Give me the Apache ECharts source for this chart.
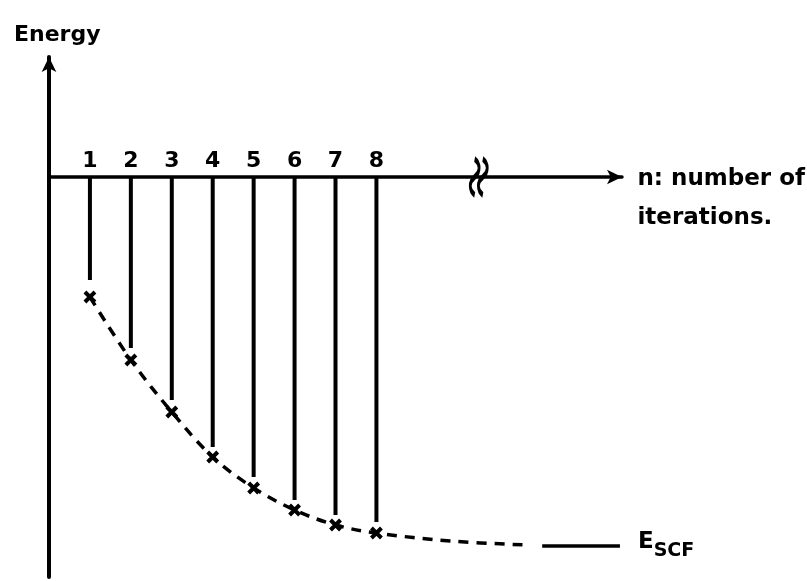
<!DOCTYPE html>
<html>
<head>
<meta charset="utf-8">
<script src="https://cdn.jsdelivr.net/npm/echarts@6/dist/echarts.min.js"></script>
<style>
  html, body { margin: 0; padding: 0; background: #fff; }
  #main { width: 807px; height: 581px; }
</style>
</head>
<body>
<div id="main"></div>
<script>
// iteration number n and the energy reached after it (arbitrary units, 0 = the n axis)
const iterations = [1, 2, 3, 4, 5, 6, 7, 8]
const energies = [-12.0, -18.3, -23.5, -28.0, -31.1, -33.3, -34.8, -35.6]
// the vertical lines stop a little above each cross
const stemEnds = [-10.3, -17.1, -22.3, -27.0, -30.0, -32.3, -33.8, -34.5]
// dashed curve keeps going to the right after n = 8
const tailX = [9.8, 11.7]
const tailE = [-36.4, -36.8]
// converged value E_SCF, drawn as a short solid segment
const scfX = [12.05, 13.95]
const scfE = -36.9
// where the n axis is broken
const breakAt = 10.5
const tickLabels = ['1', '2', '3', '4', '5', '6', '7', '8']

const FONT = 'DejaVu Sans'
const chart = echarts.init(document.getElementById('main'))

const curveData = iterations.map((n, i) => [n, energies[i]])
tailX.forEach((x, i) => curveData.push([x, tailE[i]]))

chart.setOption({
  animation: false,
  title: {
    text: 'Energy',
    left: 9,
    top: 19,
    textStyle: { fontFamily: FONT, fontWeight: 'bold', fontSize: 22, color: '#000' }
  },
  grid: { left: 49, right: 185, top: 57, bottom: 4 },
  xAxis: {
    type: 'value',
    min: 0,
    max: 14,
    interval: 1,
    axisLine: {
      onZero: true,
      symbol: ['none', 'arrow'],
      symbolSize: [11, 15],
      lineStyle: { color: '#000', width: 3.5 }
    },
    axisTick: { show: false },
    splitLine: { show: false },
    axisLabel: { show: false }
  },
  yAxis: {
    type: 'value',
    min: -40,
    max: 12,
    axisLine: {
      show: true,
      onZero: true,
      symbol: ['none', 'arrow'],
      symbolSize: [11, 15],
      lineStyle: { color: '#000', width: 4 }
    },
    axisTick: { show: false },
    axisLabel: { show: false },
    splitLine: { show: false }
  },
  graphic: [
    {
      type: 'text',
      right: 2,
      top: 160,
      style: {
        text: 'n: number of\niterations.',
        align: 'right',
        fontFamily: FONT,
        fontWeight: 'bold',
        fontSize: 23,
        lineHeight: 39,
        fill: '#000'
      }
    }
  ],
  series: [
    {
      // vertical lines from the axis down to each iteration
      name: 'stems',
      type: 'bar',
      barWidth: 4,
      itemStyle: { color: '#000' },
      data: iterations.map((n, i) => [n, stemEnds[i]])
    },
    {
      // iteration numbers written just above the axis
      name: 'labels',
      type: 'scatter',
      symbolSize: 0,
      itemStyle: { color: '#000', opacity: 1 },
      label: {
        show: true,
        position: 'top',
        distance: 5,
        fontFamily: FONT,
        fontWeight: 'bold',
        fontSize: 22,
        color: '#000',
        formatter: (p) => tickLabels[p.dataIndex]
      },
      data: iterations.map((n) => [n, 0])
    },
    {
      name: 'curve',
      type: 'line',
      smooth: 0.35,
      symbol: 'none',
      lineStyle: { color: '#000', width: 3.5, type: [10, 8] },
      data: curveData
    },
    {
      name: 'E_SCF',
      type: 'line',
      symbol: 'none',
      lineStyle: { color: '#000', width: 3.5 },
      data: scfX.map((x) => [x, scfE]),
      endLabel: {
        show: true,
        distance: 18,
        formatter: '{e|E}{s|SCF}',
        rich: {
          e: { fontFamily: FONT, fontWeight: 'bold', fontSize: 23, color: '#000', padding: [0, 0, 8, 0] },
          s: { fontFamily: FONT, fontWeight: 'bold', fontSize: 19, color: '#000', padding: [10, 0, 0, 0] }
        }
      }
    },
    {
      name: 'crosses',
      type: 'scatter',
      symbol: 'path://M0,0L10,10M10,0L0,10',
      symbolSize: 10,
      itemStyle: { color: 'none', borderColor: '#000', borderWidth: 4, opacity: 1 },
      data: curveData.slice(0, iterations.length),
      z: 5
    },
    {
      name: 'break',
      type: 'scatter',
      symbol: 'path://M0,0C8,5 8,13 0,18C-8,23 -8,31 0,36M11,0C19,5 19,13 11,18C3,23 3,31 11,36',
      symbolSize: [17, 36],
      itemStyle: { color: 'none', borderColor: '#000', borderWidth: 4, opacity: 1 },
      data: [[breakAt, 0]],
      z: 5
    }
  ]
})
</script>
</body>
</html>
